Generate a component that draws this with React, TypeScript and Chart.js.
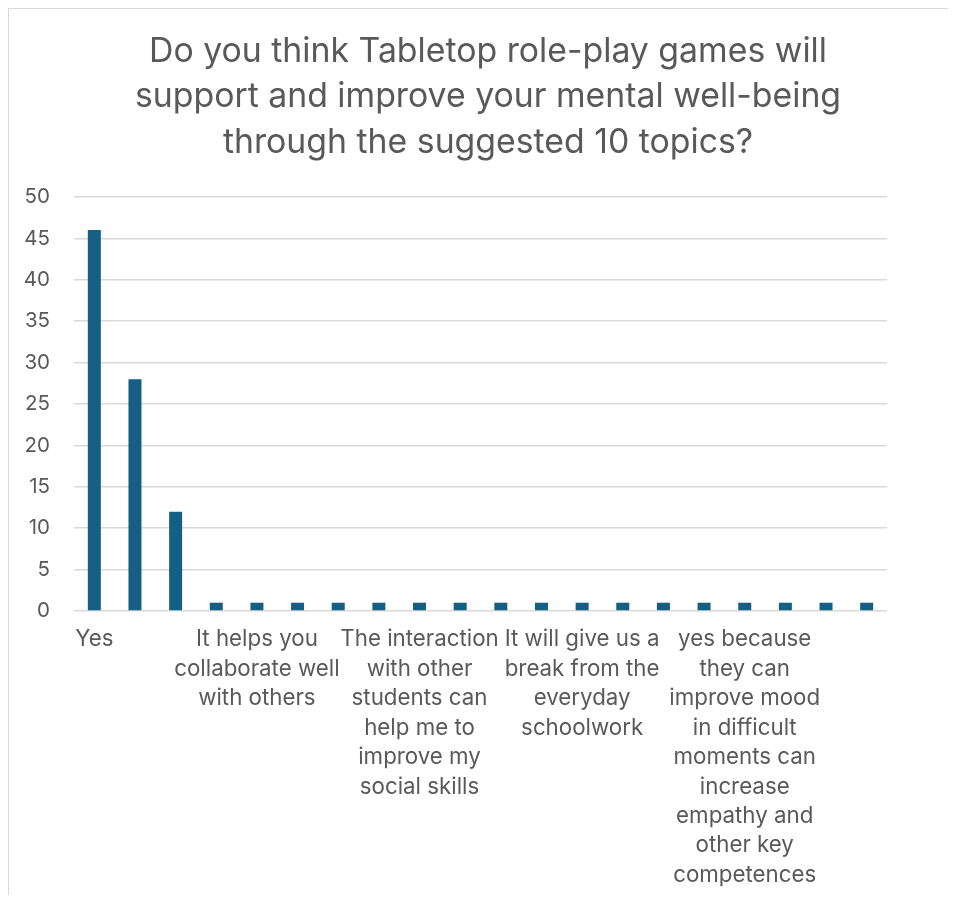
import React, { useEffect, useRef } from "react";
import { Chart, registerables } from "chart.js";

Chart.register(...registerables);

const titleLines = [
  "Do you think Tabletop role-play games will",
  "support and improve your mental well-being",
  "through the suggested 10 topics?",
];

const categories: (string | string[])[] = [
  ["Yes"], "", "", "",
  ["It helps you", "collaborate well", "with others"], "", "", "",
  ["The interaction", "with other", "students can", "help me to", "improve my", "social skills"], "", "", "",
  ["It will give us a", "break from the", "everyday", "schoolwork"], "", "", "",
  ["yes because", "they can", "improve mood", "in difficult", "moments can", "increase", "empathy and", "other key", "competences"], "", "", "",
];

const counts = [46, 28, 12, 1, 1, 1, 1, 1, 1, 1, 1, 1, 1, 1, 1, 1, 1, 1, 1, 1];

const yTicks = [0, 5, 10, 15, 20, 25, 30, 35, 40, 45, 50];

const TEXT = "#595959";
const GRID = "#d9d9d9";
const BAR = "#156082";
const TITLE_FONT = 'Inter, "Open Sans", sans-serif';
const TICK_FONT = 'Inter, "Open Sans", sans-serif';

export default function App() {
  const ref = useRef<HTMLCanvasElement | null>(null);

  useEffect(() => {
    if (!ref.current) return;
    const chart = new Chart(ref.current, {
      type: "bar",
      data: {
        labels: categories,
        datasets: [
          {
            data: counts,
            backgroundColor: BAR,
            borderWidth: 0,
            categoryPercentage: 1,
            barPercentage: 0.32,
          },
        ],
      },
      options: {
        animation: false,
        responsive: false,
        maintainAspectRatio: false,
        layout: { padding: { left: 11, right: 0, top: 0, bottom: 0 } },
        plugins: {
          legend: { display: false },
          tooltip: { enabled: false },
          title: {
            display: true,
            text: titleLines,
            color: TEXT,
            font: { family: TITLE_FONT, size: 33.8, weight: "normal", lineHeight: 1.346 },
            padding: { top: 20, bottom: 31.5 },
          },
        },
        scales: {
          x: {
            grid: { display: false, drawTicks: false },
            border: { display: false },
            afterFit: (scale: any) => {
              scale.height = 284;
            },
            ticks: {
              autoSkip: false,
              maxRotation: 0,
              minRotation: 0,
              color: TEXT,
              padding: 14,
              font: { family: TICK_FONT, size: 22.3, lineHeight: 1.32 },
            },
          },
          y: {
            min: 0,
            max: 50,
            afterBuildTicks: (scale: any) => {
              scale.ticks = yTicks.map((v) => ({ value: v }));
            },
            afterFit: (scale: any) => {
              scale.width = 54;
            },
            grid: { color: GRID, lineWidth: 1.5, drawTicks: false },
            border: { display: false },
            ticks: {
              color: TEXT,
              padding: 24,
              font: { family: TICK_FONT, size: 20.5 },
            },
          },
          y2: {
            position: "right",
            display: true,
            grid: { display: false, drawTicks: false },
            border: { display: false },
            ticks: { display: false },
            afterFit: (scale: any) => {
              scale.width = 69;
            },
          },
        },
      },
    });
    return () => chart.destroy();
  }, []);

  return (
    <div
      style={{
        width: 948,
        height: 887,
        borderTop: "1px solid #d9d9d9",
        borderLeft: "1px solid #d9d9d9",
        boxSizing: "border-box",
        overflow: "hidden",
      }}
    >
      <canvas ref={ref} width={947} height={886} style={{ display: "block" }} />
    </div>
  );
}
